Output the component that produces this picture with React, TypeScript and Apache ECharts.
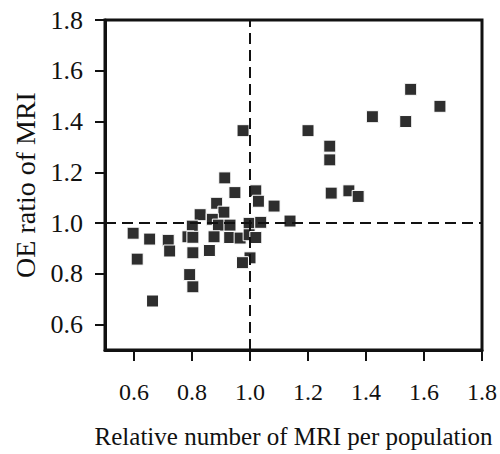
import React, { useEffect, useRef } from "react";
import * as echarts from "echarts";

const xTicks = [0.6, 0.8, 1.0, 1.2, 1.4, 1.6, 1.8];
const yTicks = [0.6, 0.8, 1.0, 1.2, 1.4, 1.6, 1.8];

const relNumber = [
  0.976, 1.2, 0.913, 0.948, 1.02, 0.885, 1.029, 1.083, 0.91, 0.828,
  0.87, 0.801, 0.891, 0.931, 0.997, 1.037, 1.138, 0.597, 0.654, 0.718,
  0.723, 0.786, 0.803, 0.876, 0.93, 0.966, 0.997, 1.02, 0.803, 0.86,
  0.611, 1.0, 0.974, 0.792, 0.803, 0.664, 1.554, 1.655, 1.422, 1.537,
  1.275, 1.275, 1.28, 1.341, 1.373,
];
const oeRatio = [
  1.364, 1.364, 1.178, 1.12, 1.127, 1.078, 1.086, 1.067, 1.043, 1.033,
  1.015, 0.988, 0.992, 0.992, 0.999, 1.003, 1.008, 0.96, 0.937, 0.932,
  0.89, 0.946, 0.944, 0.946, 0.943, 0.941, 0.954, 0.943, 0.883, 0.892,
  0.858, 0.863, 0.844, 0.797, 0.749, 0.693, 1.527, 1.46, 1.419, 1.4,
  1.303, 1.249, 1.118, 1.127, 1.105,
];

const refX = 1.0;
const refY = 1.0;

export default function App() {
  const ref = useRef<HTMLDivElement>(null);
  useEffect(() => {
    if (!ref.current) return;
    const chart = echarts.init(ref.current, null, { renderer: "svg" });
    const font = "Liberation Serif, Times New Roman, serif";
    const points = relNumber.map((x, i) => [x, oeRatio[i]]);
    chart.setOption({
      animation: false,
      backgroundColor: "#ffffff",
      textStyle: { fontFamily: font, color: "#111" },
      grid: {
        left: 105,
        right: 17,
        top: 20,
        bottom: 96,
        show: true,
        borderColor: "#111",
        borderWidth: 3,
      },
      xAxis: {
        type: "value",
        min: 0.5,
        max: 1.8,
        name: "Relative number of MRI per population",
        nameLocation: "middle",
        nameGap: 74,
        nameTextStyle: { fontFamily: font, fontSize: 25, color: "#111" },
        axisLine: { show: true, onZero: false, lineStyle: { color: "#111", width: 3 } },
        axisTick: {
          show: true,
          inside: false,
          length: 11,
          lineStyle: { color: "#111", width: 2 },
          customValues: xTicks,
        },
        axisLabel: {
          fontFamily: font,
          fontSize: 24,
          color: "#111",
          margin: 30,
          customValues: xTicks,
          formatter: (v: number) => v.toFixed(1),
        },
        splitLine: { show: false },
      },
      yAxis: {
        type: "value",
        min: 0.5,
        max: 1.8,
        name: "OE ratio of MRI",
        nameLocation: "middle",
        nameGap: 57,
        nameTextStyle: { fontFamily: font, fontSize: 28, color: "#111" },
        axisLine: { show: true, onZero: false, lineStyle: { color: "#111", width: 3 } },
        axisTick: {
          show: true,
          inside: false,
          length: 10,
          lineStyle: { color: "#111", width: 2 },
          customValues: yTicks,
        },
        axisLabel: {
          fontFamily: font,
          fontSize: 26,
          color: "#111",
          margin: 22,
          customValues: yTicks,
          formatter: (v: number) => v.toFixed(1),
        },
        splitLine: { show: false },
      },
      series: [
        {
          type: "scatter",
          data: [],
          z: 1,
          markLine: {
            silent: true,
            symbol: "none",
            label: { show: false },
            lineStyle: { color: "#111", type: [11, 6], width: 2 },
            data: [{ xAxis: refX }, { yAxis: refY }],
          },
        },
        {
          type: "scatter",
          z: 3,
          symbol: "rect",
          symbolSize: 12,
          data: points,
          itemStyle: { color: "#2e2e2e", borderColor: "#ffffff", borderWidth: 1, opacity: 1 },
        },
      ],
    });
    return () => chart.dispose();
  }, []);
  return (
    <div
      ref={ref}
      style={{ position: "fixed", left: 0, top: 0, width: 500, height: 454 }}
    />
  );
}
